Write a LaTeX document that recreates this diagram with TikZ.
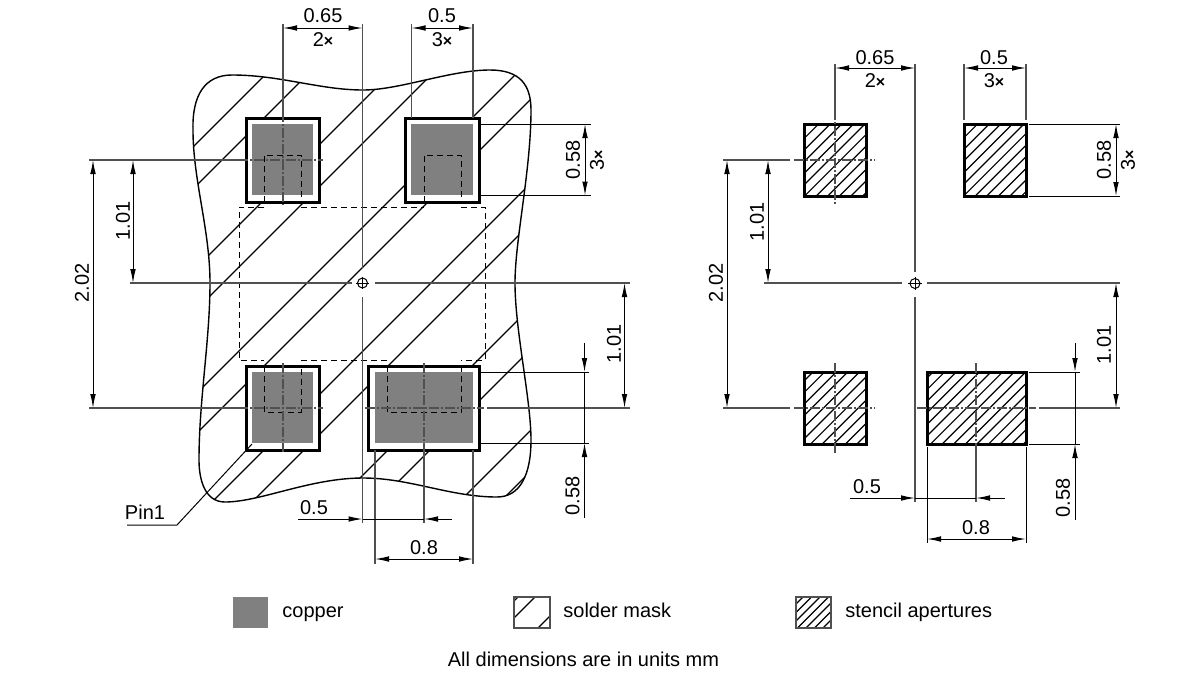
\documentclass[tikz,border=0pt]{standalone}
\usepackage{fontspec}
\setmainfont{Liberation Sans}
\usetikzlibrary{arrows.meta}
\newcommand{\tms}{{\fontsize{8}{9}\selectfont\bfseries ×}}
\definecolor{cu}{HTML}{808080}
\definecolor{axisc}{HTML}{505050}
\tikzset{
  thinl/.style={line width=0.5pt,black},
  axisl/.style={line width=0.7pt,axisc},
  chainl/.style={line width=0.6pt,axisc,dash pattern=on 5pt off 1pt on 1pt off 1pt},
  hatchl/.style={line width=0.6pt,black},
  padl/.style={line width=1.5pt,black},
  pkgl/.style={line width=0.42pt,black,dash pattern=on 3pt off 2pt},
  dimb/.style={thinl,{Latex[length=7pt,width=2.8pt]}-{Latex[length=7pt,width=2.8pt]}},
  dime/.style={thinl,-{Latex[length=7pt,width=2.8pt]}},
  lab/.style={inner sep=0pt,font=\fontsize{10}{12}\selectfont,text=black},
  rlab/.style={lab,rotate=90},
}
\begin{document}
\begin{tikzpicture}[x=0.5pt,y=-0.5pt]
\useasboundingbox (0,0) rectangle (1200,675);
% ---- left: solder-mask outline and hatch
\def\blob{(193,130) .. controls (192,95) and (205,75) .. (232,75)
  .. controls (280,75) and (320,90) .. (363,90)
  .. controls (400,90) and (450,70) .. (490,70)
  .. controls (520,70) and (531,85) .. (531,110)
  .. controls (531,170) and (515,240) .. (515,283)
  .. controls (515,330) and (531,400) .. (531,440)
  .. controls (531,475) and (520,497) .. (497,497)
  .. controls (450,497) and (410,478) .. (363,478)
  .. controls (310,478) and (260,502) .. (225,502)
  .. controls (205,502) and (199,480) .. (199,460)
  .. controls (199,400) and (210,340) .. (210,283)
  .. controls (210,230) and (193,180) .. (193,130) -- cycle}
\begin{scope}
  \clip \blob;
  \foreach \s in {340,382,464,506,590,630,714,754,838,880,961,1002}
    \draw[hatchl] ({\s-40},40) -- ({\s-520},520);
\end{scope}
\draw[line width=0.7pt,black] \blob;
% pads
\foreach \xa/\ya/\xb/\yb/\xc/\yc/\xd/\yd in {246/118/319/202/252/124/313/195, 405/118/479/202/411/124/473/195, 246/366/319/450/252/372/313/443, 368/366/479/450/375/372/473/443}{
  \draw[padl,fill=white] (\xa,\ya) rectangle (\xb,\yb);
  \fill[cu] (\xc,\yc) rectangle (\xd,\yd);
}
% package outline
\draw[pkgl] (264,207) -- (239,207) -- (239,360) -- (264,360);
\draw[pkgl] (301,207) -- (424,207);
\draw[pkgl] (461,207) -- (485,207) -- (485,360) -- (461,360);
\draw[pkgl] (301,360) -- (387,360);
\draw[pkgl] (264,202) -- (264,155) -- (301,155) -- (301,202);
\draw[pkgl] (424,202) -- (424,155) -- (461,155) -- (461,202);
\draw[pkgl] (264,366) -- (264,412) -- (301,412) -- (301,366);
\draw[pkgl] (387,366) -- (387,412) -- (461,412) -- (461,366);
% axes
\draw[axisl] (362.5,24) -- (362.5,268);
\draw[axisl] (362.5,297) -- (362.5,523);
\draw[axisl] (130,283) -- (352,283);
\draw[axisl] (375,283) -- (630,283);
\draw[thinl] (362.5,283) circle (5);
\draw[thinl] (362.5,277) -- (362.5,289) (356,283) -- (369,283);
\draw[axisl] (89,160) -- (238,160);
\draw[chainl] (238,160) -- (323,160);
\draw[axisl] (89,408) -- (238,408);
\draw[chainl] (238,408) -- (323,408);
\draw[chainl] (365,408) -- (484,408);
\draw[axisl] (487,408) -- (630,408);
\draw[axisl] (283,24) -- (283,112);
\draw[chainl] (283,112) -- (283,205);
\draw[chainl] (283,363) -- (283,452);
\draw[chainl] (424,363) -- (424,450);
\draw[axisl] (424,450) -- (424,523);
% extension lines
\draw[axisl] (411.5,24) -- (411.5,118);
\draw[axisl] (473,24) -- (473,118);
\draw[thinl] (479,124) -- (591,124);
\draw[thinl] (479,195.5) -- (591,195.5);
\draw[thinl] (479,372) -- (589,372);
\draw[thinl] (479,443) -- (589,443);
\draw[axisl] (375,450) -- (375,564);
\draw[axisl] (473,450) -- (473,564);
% dimensions
\draw[dimb] (283,28) -- (362.5,28);
\draw[dimb] (411.5,28) -- (473,28);
\draw[dimb] (585,124) -- (585,195.5);
\draw[dimb] (93,160) -- (93,408);
\draw[dimb] (133,160) -- (133,283);
\draw[dimb] (624.5,283) -- (624.5,408);
\draw[dime] (584.5,343) -- (584.5,372);
\draw[dime] (584.5,518) -- (584.5,443);
\draw[thinl] (584.5,372) -- (584.5,443);
\draw[dime] (298,519) -- (362.5,519);
\draw[thinl] (362.5,519) -- (424,519);
\draw[dime] (452,519) -- (424,519);
\draw[dimb] (375,559) -- (473,559);
% Pin1 leader
\draw[thinl] (127,525) -- (177,525) -- (252,444);
% labels
\node[lab] (la) at (323,16) {0.65};
\node[lab] (lb) at (323,40) {2\tms};
\node[lab] (lc) at (442,16) {0.5};
\node[lab] (ld) at (442,40) {3\tms};
\node[rlab] (le) at (573,160) {0.58};
\node[rlab] (lf) at (597,160) {3\tms};
\node[rlab] (lg) at (82,283) {2.02};
\node[rlab] (lh) at (123,221) {1.01};
\node[rlab] (li) at (614,344) {1.01};
\node[rlab] (lj) at (572.5,496) {0.58};
\node[lab] (lk) at (314,508) {0.5};
\node[lab] (ll) at (424,548) {0.8};
\node[lab] (lm) at (145,512) {Pin1};
% ---- right: stencil pads
\foreach \xa/\ya/\xb/\yb/\st/\en in {804/124/866/196/931/1062, 964/124/1026/196/1090/1222, 804/372/866/444/1185/1310, 927/372/1026/444/1305/1470}{
  \begin{scope}
    \clip (\xa,\ya) rectangle (\xb,\yb);
    \pgfmathsetmacro{\nx}{\st+11.6}
    \foreach \s in {\st,\nx,...,\en}
      \draw[hatchl] ({\s-100},100) -- ({\s-460},460);
  \end{scope}
  \draw[padl] (\xa,\ya) rectangle (\xb,\yb);
}
% right axes
\draw[axisl] (915,64) -- (915,272);
\draw[axisl] (915,297) -- (915,502);
\draw[axisl] (764,283) -- (902,283);
\draw[axisl] (927,283) -- (1120,283);
\draw[thinl] (915,283.5) circle (5);
\draw[thinl] (915,277) -- (915,290) (908,283.5) -- (922,283.5);
\draw[axisl] (723,160) -- (790,160);
\draw[chainl] (794,160) -- (875,160);
\draw[axisl] (723,408) -- (790,408);
\draw[chainl] (794,408) -- (875,408);
\draw[chainl] (917,408) -- (1036,408);
\draw[axisl] (1039,408) -- (1120,408);
\draw[axisl] (835,64) -- (835,110);
\draw[chainl] (835,110) -- (835,205);
\draw[chainl] (835,363) -- (835,453);
\draw[chainl] (976,363) -- (976,447);
\draw[axisl] (976,447) -- (976,502);
% right extension lines
\draw[axisl] (964,64) -- (964,120);
\draw[axisl] (1026,64) -- (1026,120);
\draw[thinl] (1029,124) -- (1120,124);
\draw[thinl] (1029,196) -- (1120,196);
\draw[thinl] (1029,372) -- (1080,372);
\draw[thinl] (1029,444) -- (1080,444);
\draw[thinl] (927,447) -- (927,543);
\draw[thinl] (1026,447) -- (1026,543);
% right dimensions
\draw[dimb] (835,68) -- (915,68);
\draw[dimb] (964,68) -- (1026,68);
\draw[dimb] (1116,124) -- (1116,196);
\draw[dimb] (1116,283) -- (1116,408);
\draw[dimb] (727,160) -- (727,408);
\draw[dimb] (768,160) -- (768,283);
\draw[dime] (1075,343) -- (1075,372);
\draw[dime] (1075,520) -- (1075,444);
\draw[thinl] (1075,372) -- (1075,444);
\draw[dime] (850,498) -- (915,498);
\draw[thinl] (915,498) -- (976,498);
\draw[dime] (1005,498) -- (976,498);
\draw[dimb] (927,539) -- (1026,539);
\node[lab] (ra) at (875,58) {0.65};
\node[lab] (rb) at (875,81) {2\tms};
\node[lab] (rc) at (994,58) {0.5};
\node[lab] (rd) at (994,81) {3\tms};
\node[rlab] (re) at (1104,160) {0.58};
\node[rlab] (rf) at (1128,160) {3\tms};
\node[rlab] (rg) at (716,283) {2.02};
\node[rlab] (rh) at (757,222) {1.01};
\node[rlab] (ri) at (1104,345) {1.01};
\node[rlab] (rj) at (1063,498) {0.58};
\node[lab] (rk) at (867,487) {0.5};
\node[lab] (rl) at (976,528) {0.8};
% legend
\fill[cu] (233,597) rectangle (268,628);
\node[lab,anchor=base west] (l1) at (282,617.5) {copper};
\begin{scope}
  \clip (514,597) rectangle (550,628);
  \foreach \s in {1115,1132,1166}
    \draw[hatchl] ({\s-590},590) -- ({\s-640},640);
\end{scope}
\draw[line width=0.6pt,axisc] (514,597) rectangle (550,628);
\node[lab,anchor=base west] (l2) at (563,617.5) {solder mask};
\begin{scope}
  \clip (796,597) rectangle (831,628);
  \foreach \s in {1400,1408.5,...,1460}
    \draw[hatchl] ({\s-590},590) -- ({\s-640},640);
\end{scope}
\draw[line width=0.6pt,axisc] (796,597) rectangle (831,628);
\node[lab,anchor=base west] (l3) at (845,617.5) {stencil apertures};
\node[lab,anchor=base] (l4) at (583.5,666) {All dimensions are in units mm};
\end{tikzpicture}
\end{document}
